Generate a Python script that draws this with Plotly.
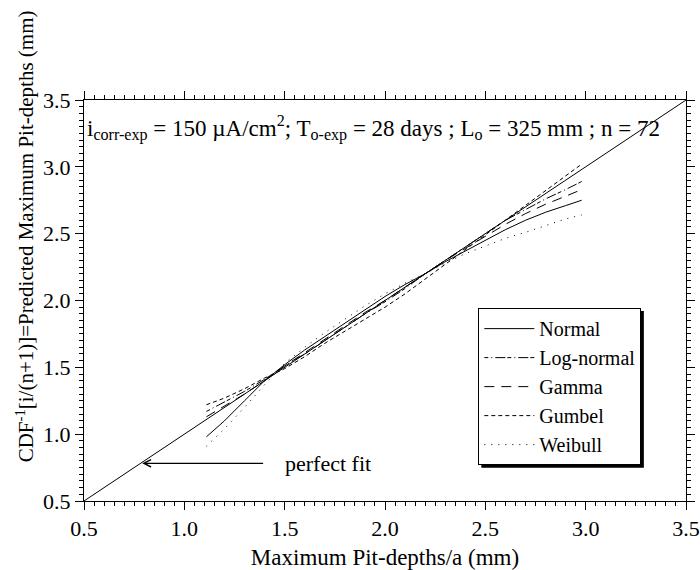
import plotly.graph_objects as go

# ---------------- data ----------------
x_obs = [1.11, 1.2, 1.3, 1.4, 1.5, 1.6, 1.7, 1.8, 1.9, 2.0, 2.1, 2.2, 2.3, 2.4, 2.5, 2.6, 2.7, 2.8, 2.9, 2.98]
normal = [0.98, 1.10, 1.25, 1.40, 1.52, 1.63, 1.73, 1.83, 1.93, 2.03, 2.12, 2.20, 2.29, 2.37, 2.45, 2.53, 2.60, 2.66, 2.71, 2.75]
lognormal = [1.17, 1.24, 1.32, 1.41, 1.51, 1.60, 1.70, 1.80, 1.90, 1.99, 2.09, 2.20, 2.30, 2.40, 2.50, 2.60, 2.68, 2.76, 2.83, 2.89]
gamma = [1.13, 1.21, 1.30, 1.40, 1.51, 1.61, 1.71, 1.81, 1.91, 2.00, 2.10, 2.20, 2.30, 2.39, 2.48, 2.57, 2.65, 2.72, 2.78, 2.83]
gumbel = [1.22, 1.27, 1.34, 1.42, 1.49, 1.58, 1.68, 1.77, 1.86, 1.95, 2.05, 2.16, 2.27, 2.38, 2.49, 2.60, 2.71, 2.82, 2.93, 3.02]
weibull = [0.91, 1.04, 1.20, 1.37, 1.53, 1.65, 1.76, 1.86, 1.96, 2.05, 2.13, 2.20, 2.28, 2.35, 2.41, 2.465, 2.51, 2.56, 2.61, 2.64]
perfect = [0.5, 3.5]
series_names = ["Normal", "Log-normal", "Gamma", "Gumbel", "Weibull"]

FONT = "Liberation Serif"

fig = go.Figure()
fig.add_trace(go.Scatter(x=perfect, y=perfect, mode="lines", line=dict(color="black", width=1),
                         showlegend=False, hoverinfo="skip"))

dashes = ["solid", "4px,3px,1px,3px,10px,2px", "10px,7px", "4px,3px", "1px,6px"]
for name, ys, d in zip(series_names, [normal, lognormal, gamma, gumbel, weibull], dashes):
    fig.add_trace(go.Scatter(x=x_obs, y=ys, mode="lines", name=name,
                             line=dict(color="black", width=1, dash=d)))

axis_common = dict(
    range=[0.5, 3.5], dtick=0.5, tick0=0.5, tickformat=".1f",
    showline=True, linecolor="black", linewidth=1, mirror="allticks",
    ticks="outside", ticklen=8, tickcolor="black", tickwidth=1,
    minor=dict(ticks="outside", ticklen=4, dtick=0.05, tickcolor="black", showgrid=False),
    showgrid=False, zeroline=False, automargin=False,
    tickfont=dict(family=FONT, size=22, color="black"),
)

fig.update_layout(
    width=700, height=570,
    margin=dict(l=84, r=14, t=100, b=69, autoexpand=False),
    plot_bgcolor="white", paper_bgcolor="white",
    font=dict(family=FONT, size=22, color="black"),
    xaxis=dict(**axis_common, title=dict(text="Maximum Pit-depths/a (mm)", font=dict(family=FONT, size=23), standoff=10)),
    yaxis=dict(**axis_common),
    legend=dict(x=0.655, y=0.481, xanchor="left", yanchor="top",
                bgcolor="white", bordercolor="black", borderwidth=1,
                font=dict(family=FONT, size=20, color="black"),
                itemwidth=50, tracegroupgap=0),
    showlegend=True,
)

# y-axis title
fig.add_annotation(xref="paper", yref="paper", x=-0.098, y=0.66, xanchor="center", yanchor="middle",
                   text="CDF<sup>-1</sup>[i/(n+1)]=Predicted Maximum Pit-depths (mm)", textangle=-90,
                   showarrow=False, font=dict(family=FONT, size=21, color="black"))

# condition annotation
fig.add_annotation(xref="paper", yref="paper", x=0.002, y=0.930, xanchor="left", yanchor="middle",
                   text="i<sub>corr-exp</sub> = 150 \u00b5A/cm<sup>2</sup>; T<sub>o-exp</sub> = 28 days ; L<sub>o</sub> = 325 mm ; n = 72",
                   showarrow=False, font=dict(family=FONT, size=23, color="black"))

# perfect fit arrow
fig.add_annotation(xref="x", yref="y", axref="x", ayref="y", x=0.79, y=0.782, ax=1.40, ay=0.782,
                   text="", showarrow=True, arrowhead=5, arrowsize=1.2, arrowwidth=1.2, arrowcolor="black")
fig.add_annotation(xref="x", yref="y", x=1.49, y=0.782, xanchor="left", yanchor="middle",
                   text="perfect fit", showarrow=False, font=dict(family=FONT, size=22, color="black"))

# legend shadow (legend box covers all but its offset edge)
fig.add_shape(type="rect", xref="paper", yref="paper", x0=0.66, x1=0.930, y0=0.083, y1=0.474,
              fillcolor="black", line=dict(width=0), layer="above")

fig.write_html("out.html")
